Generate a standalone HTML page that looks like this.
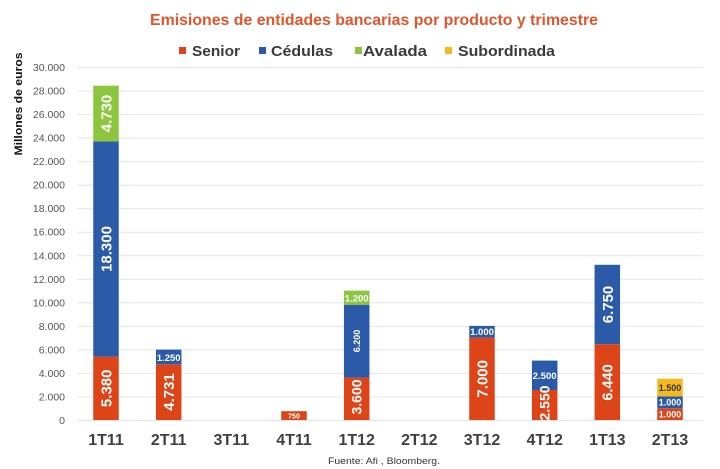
<!DOCTYPE html>
<html><head><meta charset="utf-8"><style>
html,body{margin:0;padding:0;background:#fff;}
svg{display:block;}
text{font-family:"Liberation Sans",Arial,sans-serif;}
</style></head><body>
<svg width="720" height="469" viewBox="0 0 720 469" xmlns="http://www.w3.org/2000/svg">
<rect width="720" height="469" fill="#fff"/>
<text x="150" y="25" font-size="16" font-weight="bold" fill="#E2542B" textLength="448" lengthAdjust="spacingAndGlyphs">Emisiones de entidades bancarias por producto y trimestre</text>
<g font-size="15" font-weight="bold" fill="#3a3a3a">
<rect x="179" y="47" width="7" height="7" fill="#DD4418"/><text x="192" y="56" textLength="48" lengthAdjust="spacingAndGlyphs">Senior</text>
<rect x="259" y="47" width="7" height="7" fill="#2A5AA8"/><text x="271" y="56" textLength="62" lengthAdjust="spacingAndGlyphs">Cédulas</text>
<rect x="355" y="47" width="7" height="7" fill="#8CC63F"/><text x="363" y="56" textLength="64" lengthAdjust="spacingAndGlyphs">Avalada</text>
<rect x="445" y="47" width="7" height="7" fill="#F5B91C"/><text x="458" y="56" textLength="97" lengthAdjust="spacingAndGlyphs">Subordinada</text>
</g>
<text transform="translate(22,104) rotate(-90)" text-anchor="middle" font-size="11" font-weight="bold" fill="#111" textLength="103" lengthAdjust="spacingAndGlyphs">Millones de euros</text>
<g stroke="#e4e4e4" stroke-width="1">
<line x1="77" x2="703" y1="420.5" y2="420.5"/>
<line x1="77" x2="703" y1="396.97" y2="396.97"/>
<line x1="77" x2="703" y1="373.43" y2="373.43"/>
<line x1="77" x2="703" y1="349.9" y2="349.9"/>
<line x1="77" x2="703" y1="326.37" y2="326.37"/>
<line x1="77" x2="703" y1="302.83" y2="302.83"/>
<line x1="77" x2="703" y1="279.3" y2="279.3"/>
<line x1="77" x2="703" y1="255.77" y2="255.77"/>
<line x1="77" x2="703" y1="232.23" y2="232.23"/>
<line x1="77" x2="703" y1="208.7" y2="208.7"/>
<line x1="77" x2="703" y1="185.17" y2="185.17"/>
<line x1="77" x2="703" y1="161.63" y2="161.63"/>
<line x1="77" x2="703" y1="138.1" y2="138.1"/>
<line x1="77" x2="703" y1="114.57" y2="114.57"/>
<line x1="77" x2="703" y1="91.03" y2="91.03"/>
<line x1="77" x2="703" y1="67.5" y2="67.5"/>
</g>
<g font-size="10.5" fill="#555" text-anchor="end">
<text x="65" y="424">0</text>
<text x="65" y="400.5">2.000</text>
<text x="65" y="377">4.000</text>
<text x="65" y="353.4">6.000</text>
<text x="65" y="329.9">8.000</text>
<text x="65" y="306.3">10.000</text>
<text x="65" y="282.8">12.000</text>
<text x="65" y="259.3">14.000</text>
<text x="65" y="235.7">16.000</text>
<text x="65" y="212.2">18.000</text>
<text x="65" y="188.7">20.000</text>
<text x="65" y="165.1">22.000</text>
<text x="65" y="141.6">24.000</text>
<text x="65" y="118.1">26.000</text>
<text x="65" y="94.5">28.000</text>
<text x="65" y="71">30.000</text>
</g>
<!-- bars -->
<g>
<!-- 1T11 -->
<rect x="93.25" y="356.7" width="25.5" height="63.3" fill="#DD4418"/>
<rect x="93.25" y="141.4" width="25.5" height="215.3" fill="#2A5AA8"/>
<rect x="93.25" y="85.7" width="25.5" height="55.7" fill="#8CC63F"/>
<!-- 2T11 -->
<rect x="155.95" y="364.3" width="25.5" height="55.7" fill="#DD4418"/>
<rect x="155.95" y="349.6" width="25.5" height="14.7" fill="#2A5AA8"/>
<!-- 4T11 -->
<rect x="281.25" y="411.2" width="25.5" height="8.8" fill="#DD4418"/>
<!-- 1T12 -->
<rect x="343.95" y="377.6" width="25.5" height="42.4" fill="#DD4418"/>
<rect x="343.95" y="304.7" width="25.5" height="72.9" fill="#2A5AA8"/>
<rect x="343.95" y="290.6" width="25.5" height="14.1" fill="#8CC63F"/>
<!-- 3T12 -->
<rect x="469.25" y="337.6" width="25.5" height="82.4" fill="#DD4418"/>
<rect x="469.25" y="325.9" width="25.5" height="11.7" fill="#2A5AA8"/>
<!-- 4T12 -->
<rect x="531.95" y="390" width="25.5" height="30" fill="#DD4418"/>
<rect x="531.95" y="360.6" width="25.5" height="29.4" fill="#2A5AA8"/>
<!-- 1T13 -->
<rect x="594.55" y="344.2" width="25.5" height="75.8" fill="#DD4418"/>
<rect x="594.55" y="264.8" width="25.5" height="79.4" fill="#2A5AA8"/>
<!-- 2T13 -->
<rect x="657.25" y="408.2" width="25.5" height="11.8" fill="#DD4418"/>
<rect x="657.25" y="396.5" width="25.5" height="11.7" fill="#2A5AA8"/>
<rect x="657.25" y="378.8" width="25.5" height="17.7" fill="#F5B91C"/>
</g>
<!-- rotated labels -->
<g font-weight="bold" fill="#fff" text-anchor="middle" font-size="15">
<text transform="translate(111.5,388.3) rotate(-90)">5.380</text>
<text transform="translate(111.5,249) rotate(-90)">18.300</text>
<text transform="translate(111.5,113.5) rotate(-90)">4.730</text>
<text transform="translate(174.2,392) rotate(-90)">4.731</text>
<text transform="translate(361.7,397) rotate(-90)" font-size="14">3.600</text>
<text transform="translate(487.5,378.8) rotate(-90)">7.000</text>
<text transform="translate(549.7,403) rotate(-90)" font-size="14">2.550</text>
<text transform="translate(612.5,382.5) rotate(-90)" font-size="14.5">6.440</text>
<text transform="translate(612.8,304.5) rotate(-90)">6.750</text>
<text transform="translate(360,341) rotate(-90)" font-size="9">6.200</text>
</g>
<g font-weight="bold" fill="#fff" text-anchor="middle" font-size="9.5">
<text x="168.7" y="361">1.250</text>
<text x="294" y="418.5" font-size="7">750</text>
<text x="356.7" y="301.5">1.200</text>
<text x="482" y="335">1.000</text>
<text x="544.7" y="379">2.500</text>
<text x="670" y="417.5" font-size="9">1.000</text>
<text x="670" y="405.5" font-size="9">1.000</text>
<text x="670" y="391" font-size="9" fill="#333">1.500</text>
</g>
<g font-size="16" font-weight="bold" fill="#404040" text-anchor="middle">
<text x="106" y="445">1T11</text>
<text x="168.7" y="445">2T11</text>
<text x="231.3" y="445">3T11</text>
<text x="294" y="445">4T11</text>
<text x="356.7" y="445">1T12</text>
<text x="419.3" y="445">2T12</text>
<text x="482" y="445">3T12</text>
<text x="544.7" y="445">4T12</text>
<text x="607.3" y="445">1T13</text>
<text x="670" y="445">2T13</text>
</g>
<text x="328" y="464" font-size="9" fill="#333" textLength="112" lengthAdjust="spacingAndGlyphs">Fuente: Afi , Bloomberg.</text>
</svg>
</body></html>
